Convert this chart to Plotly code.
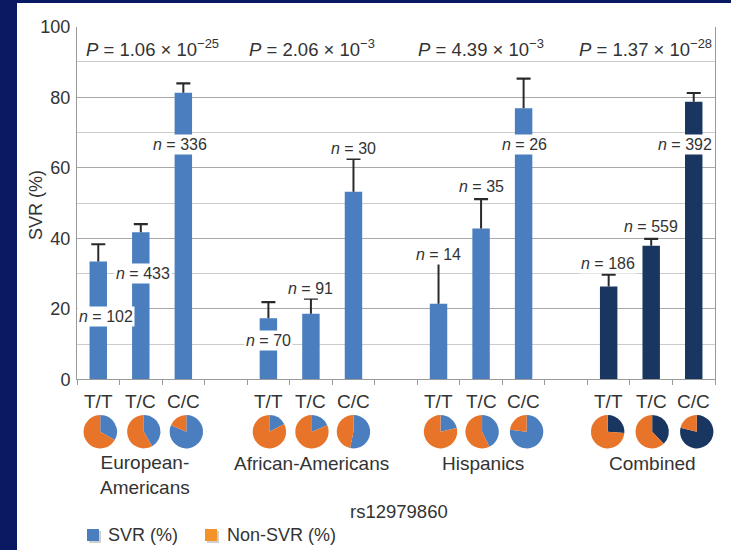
import plotly.graph_objects as go

# ---------------- data ----------------
groups = ["European-<br>Americans", "African-Americans", "Hispanics", "Combined"]
genotypes = ["T/T", "T/C", "C/C"]
svr_pct = [[33.4, 41.7, 81.3],
           [17.3, 18.6, 53.2],
           [21.4, 42.8, 76.9],
           [26.3, 37.9, 78.7]]
err_upper = [[38.3, 44.0, 83.9],
             [21.9, 22.9, 62.5],
             [33.0, 51.1, 85.3],
             [29.7, 39.8, 81.2]]
n_counts = [[102, 433, 336],
            [70, 91, 30],
            [14, 35, 26],
            [186, 559, 392]]
p_values = ["1.06 × 10<sup>−25</sup>", "2.06 × 10<sup>−3</sup>",
            "4.39 × 10<sup>−3</sup>", "1.37 × 10<sup>−28</sup>"]
snp_label = "rs12979860"
y_ticks = [0, 20, 40, 60, 80, 100]

# ---------------- layout / style ----------------
W, H = 731, 550
PL, PR, PT, PB = 77, 715, 26.7, 379.3
NSLOT = 15
SLOT = (PR - PL) / NSLOT
FONT = "Liberation Sans, Arial, sans-serif"
TXT = "#333333"
BLUE = "#4a7ebf"
NAVY = "#18365f"
ORANGE = "#e8742a"
BG = "#0a1a62"

# label placement (layout, not data): (y value, x shift px)
n_label_pos = [[(17.7, 8), (30.0, 2), (66.7, -3)],
               [(11.1, 0), (25.8, 0), (65.5, 0)],
               [(35.3, 0), (54.8, 0), (66.7, 1)],
               [(32.9, -1), (43.3, 0), (66.7, -9)]]
p_shift = [12, 1, 0, -6]
group_shift = [4, 1, 2, 1]


def px(x):
    return x / W


def py(y):
    return 1 - y / H


def slot_of(g, k):
    return g * 4 + k


def slot_px(s):
    return PL + (s + 0.5) * SLOT


xs, ys, colors = [], [], []
ex, ey, capx, capy = [], [], [], []
for g in range(4):
    for k in range(3):
        s = slot_of(g, k)
        xs.append(s)
        ys.append(svr_pct[g][k])
        colors.append(NAVY if g == 3 else BLUE)
        ex += [s, s, None]
        ey += [svr_pct[g][k], err_upper[g][k], None]
        capx.append(s)
        capy.append(err_upper[g][k])

fig = go.Figure()
fig.add_trace(go.Bar(x=xs, y=ys, width=0.41, marker=dict(color=colors, line=dict(width=0)),
                     showlegend=False, hoverinfo="y"))
fig.add_trace(go.Scatter(x=ex, y=ey, mode="lines", line=dict(color="#2a2a2a", width=2),
                         showlegend=False, hoverinfo="skip"))
fig.add_trace(go.Scatter(x=capx, y=capy, mode="markers",
                         marker=dict(symbol="line-ew", size=10,
                                     line=dict(color="#2a2a2a", width=2.2)),
                         showlegend=False, hoverinfo="skip"))

# pies
R = 16.7
CY = 431.7
pie_dx = [[2, 3, 3], [1, 1, 0], [2, 1, 3], [-1, 1, 3]]
for g in range(4):
    for k in range(3):
        s = slot_of(g, k)
        cx = slot_px(s) + pie_dx[g][k]
        v = svr_pct[g][k]
        fig.add_trace(go.Pie(
            values=[v, 100 - v], sort=False, direction="clockwise", rotation=0,
            marker=dict(colors=[NAVY if g == 3 else BLUE, ORANGE], line=dict(width=0)),
            textinfo="none", hoverinfo="skip", showlegend=False, automargin=False,
            domain=dict(x=[px(cx - R), px(cx + R)], y=[py(CY + R), py(CY - R)])))

ann = []
# n labels
for g in range(4):
    for k in range(3):
        yv, dx = n_label_pos[g][k]
        ann.append(dict(x=slot_of(g, k), y=yv, xref="x", yref="y", xshift=dx,
                        text=f"<i>n</i> = {n_counts[g][k]}", showarrow=False,
                        bgcolor="white", borderpad=1,
                        font=dict(size=16, color=TXT, family=FONT)))
# P values
for g in range(4):
    ann.append(dict(x=slot_of(g, 1), y=94, xref="x", yref="y", xshift=p_shift[g],
                    text=f"<i>P</i> = {p_values[g]}", showarrow=False,
                    font=dict(size=18.5, color=TXT, family=FONT)))
# genotype labels
for g in range(4):
    for k in range(3):
        ann.append(dict(x=slot_of(g, k), y=py(401.7), xref="x", yref="paper",
                        text=genotypes[k], showarrow=False, yanchor="middle",
                        font=dict(size=19, color=TXT, family=FONT)))
# group labels
for g in range(4):
    ycen = 475 if "<br>" in groups[g] else 463
    ann.append(dict(x=slot_of(g, 1), y=py(ycen), xref="x", yref="paper", xshift=group_shift[g],
                    text=groups[g], showarrow=False, yanchor="middle",
                    font=dict(size=19, color=TXT, family=FONT)))
# x title
ann.append(dict(x=px(399), y=py(511.7), xref="paper", yref="paper", text=snp_label,
                showarrow=False, yanchor="middle", font=dict(size=18.5, color=TXT, family=FONT)))
# y title
ann.append(dict(x=px(36), y=py(205), xref="paper", yref="paper", text="SVR (%)", textangle=-90,
                showarrow=False, xanchor="center", yanchor="middle",
                font=dict(size=18, color=TXT, family=FONT)))
# legend texts
ann.append(dict(x=px(106), y=py(535), xref="paper", yref="paper", text="SVR (%)",
                showarrow=False, xanchor="left", yanchor="middle",
                font=dict(size=18, color=TXT, family=FONT)))
ann.append(dict(x=px(225), y=py(535), xref="paper", yref="paper", text="Non-SVR (%)",
                showarrow=False, xanchor="left", yanchor="middle",
                font=dict(size=18, color=TXT, family=FONT)))

shapes = [
    # dark slide frame on the left and top edges
    dict(type="rect", xref="paper", yref="paper", x0=0, x1=px(17), y0=0, y1=1,
         fillcolor=BG, line=dict(width=0), layer="below"),
    dict(type="rect", xref="paper", yref="paper", x0=0, x1=1, y0=py(3), y1=1,
         fillcolor=BG, line=dict(width=0), layer="below"),
    # legend swatches with soft shadow
    dict(type="rect", xref="paper", yref="paper", x0=px(89), x1=px(101), y0=py(543), y1=py(531),
         fillcolor="#cfcfcf", line=dict(width=0)),
    dict(type="rect", xref="paper", yref="paper", x0=px(87), x1=px(99), y0=py(541), y1=py(529),
         fillcolor=BLUE, line=dict(width=0)),
    dict(type="rect", xref="paper", yref="paper", x0=px(207), x1=px(219), y0=py(543), y1=py(531),
         fillcolor="#cfcfcf", line=dict(width=0)),
    dict(type="rect", xref="paper", yref="paper", x0=px(205), x1=px(217), y0=py(541), y1=py(529),
         fillcolor="#f4922a", line=dict(width=0)),
]

fig.update_layout(
    width=W, height=H, margin=dict(l=0, r=0, t=0, b=0, pad=0), autosize=False,
    paper_bgcolor="white", plot_bgcolor="white",
    font=dict(family=FONT, color=TXT),
    annotations=ann, shapes=shapes, showlegend=False,
    xaxis=dict(domain=[px(PL), px(PR)], range=[-0.5, NSLOT - 0.5], automargin=False,
               tickvals=[i - 0.5 for i in range(NSLOT + 1)], showticklabels=False,
               ticks="outside", ticklen=5, tickcolor="#9a9a9a", tickwidth=1,
               showgrid=False, zeroline=False, showline=True, linecolor="#9a9a9a", linewidth=1),
    yaxis=dict(domain=[py(PB), py(PT)], range=[0, 100], tickvals=y_ticks, automargin=False,
               ticks="", tickfont=dict(size=18, color=TXT, family=FONT),
               gridcolor="#a9a9a9", gridwidth=1,
               minor=dict(dtick=10, tick0=0, showgrid=True, gridcolor="#cccccc", gridwidth=1, ticks=""),
               zeroline=False, showline=True, linecolor="#9a9a9a", linewidth=1, mirror=True,
               ticklabelstandoff=2),
)

post = (
    "var gd=document.getElementById('{plot_id}');"
    "gd.style.position='fixed';gd.style.top='0px';gd.style.left='0px';"
    "document.body.style.margin='0';document.body.style.padding='0';"
    "document.body.style.overflow='hidden';"
    "document.documentElement.style.overflow='hidden';"
)
fig.write_html("out.html", config={"displayModeBar": False}, post_script=post)
